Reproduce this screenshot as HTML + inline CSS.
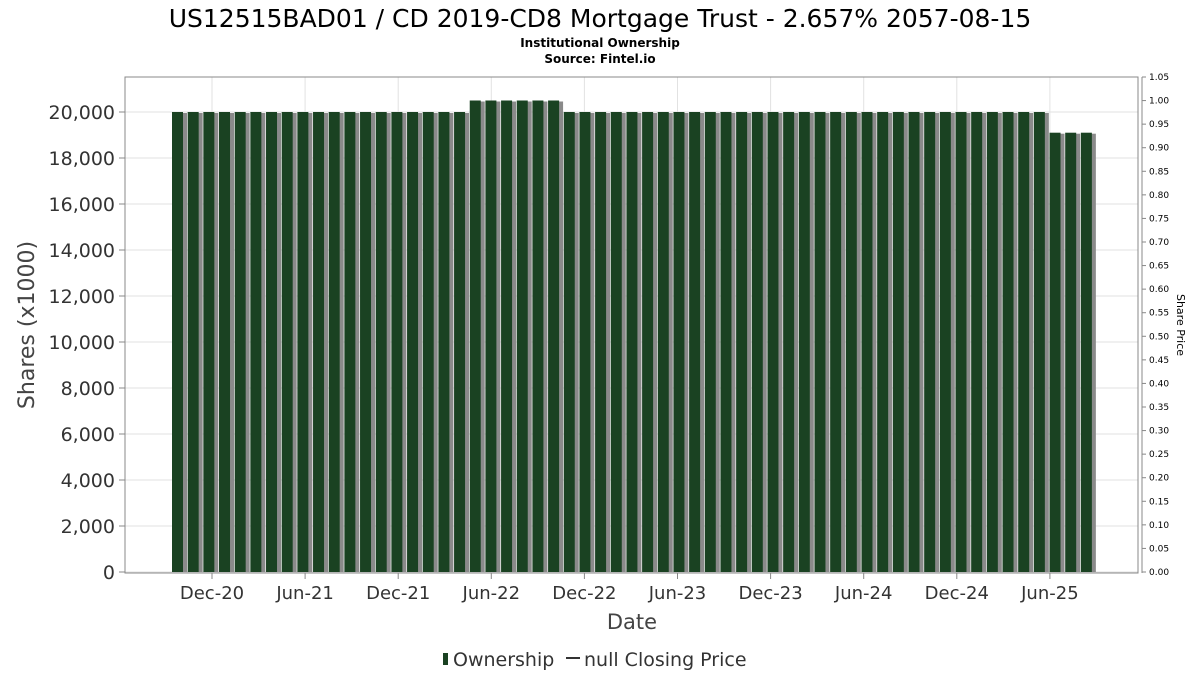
<!DOCTYPE html>
<html><head><meta charset="utf-8"><style>
body{margin:0;background:#fff;}
svg text{font-family:"DejaVu Sans","Liberation Sans",sans-serif;}
</style></head><body>
<svg id="chart" width="1200" height="675" xmlns="http://www.w3.org/2000/svg">
<text x="600" y="27" text-anchor="middle" font-size="25" fill="#000">US12515BAD01 / CD 2019-CD8 Mortgage Trust - 2.657% 2057-08-15</text>
<text x="600" y="47" text-anchor="middle" font-size="12" font-weight="bold" fill="#000">Institutional Ownership</text>
<text x="600" y="63" text-anchor="middle" font-size="12" font-weight="bold" fill="#000">Source: Fintel.io</text>
<g id="grid"></g>
<g id="bars"></g>
<rect x="125" y="77" width="1013" height="496" fill="none" stroke="#888" stroke-width="1"/>
<g id="axes"></g>
<text transform="translate(34,325) rotate(-90)" text-anchor="middle" font-size="22" fill="#444">Shares (x1000)</text>
<text transform="translate(1177,325) rotate(90)" text-anchor="middle" font-size="11" fill="#000">Share Price</text>
<text x="632" y="629" text-anchor="middle" font-size="21" fill="#444">Date</text>
<g>
<rect x="443" y="653" width="5" height="12" fill="#1a4222"/>
<text x="453" y="666" font-size="19" fill="#333">Ownership</text>
<line x1="566" y1="658" x2="580" y2="658" stroke="#333" stroke-width="2"/>
<text x="584" y="666" font-size="19" fill="#333">null Closing Price</text>
</g>
</svg>
<script>
const barValues = [20000,20000,20000,20000,20000,20000,20000,20000,20000,20000,20000,20000,20000,20000,20000,20000,20000,20000,20000,
20500,20500,20500,20500,20500,20500,
20000,20000,20000,20000,20000,20000,20000,20000,20000,20000,20000,20000,20000,20000,20000,20000,20000,20000,20000,20000,20000,20000,20000,20000,20000,20000,20000,20000,20000,20000,20000,
19100,19100,19100];
const yTicks = [0,2000,4000,6000,8000,10000,12000,14000,16000,18000,20000];
const y2Ticks = [0,0.05,0.1,0.15,0.2,0.25,0.3,0.35,0.4,0.45,0.5,0.55,0.6,0.65,0.7,0.75,0.8,0.85,0.9,0.95,1.0,1.05];
const xTickLabels = ["Dec-20","Jun-21","Dec-21","Jun-22","Dec-22","Jun-23","Dec-23","Jun-24","Dec-24","Jun-25"];
const xTickHalfYears = [0,1,2,3,4,5,6,7,8,9];

const NS="http://www.w3.org/2000/svg";
const y=v=>572-v*0.023;
const y2=v=>572-v*(495/1.05);
const xb=i=>172+i*15.67;
const xt=k=>212+k*93.1;
function mk(tag,attrs,parent,txt){const e=document.createElementNS(NS,tag);for(const k in attrs)e.setAttribute(k,attrs[k]);if(txt!==undefined)e.textContent=txt;document.getElementById(parent).appendChild(e);return e;}

yTicks.forEach(v=>{
  const g=mk('line',{x1:125,x2:1138,y1:y(v),y2:y(v),stroke:'#e2e2e2'},'grid');
  
  
  const t=mk('line',{x1:119,x2:125,y1:y(v),y2:y(v),stroke:'#888'},'axes');
  
  
  const l=mk('text',{x:115,y:y(v)+7,'text-anchor':'end','font-size':19,fill:'#333'},'axes',v.toLocaleString('en-US'));
  
  
});
xTickHalfYears.forEach((k,i)=>{
  const g=mk('line',{x1:xt(k),x2:xt(k),y1:77,y2:573,stroke:'#e2e2e2'},'grid');
  
  
  const t=mk('line',{x1:xt(k),x2:xt(k),y1:573,y2:579,stroke:'#888'},'axes');
  
  
  const l=mk('text',{x:xt(k),y:599,'text-anchor':'middle','font-size':18,fill:'#333'},'axes',xTickLabels[i]);
  
  
});
const ax=mk('line',{x1:1142,x2:1142,y1:77,y2:573,stroke:'#888'},'axes');


y2Ticks.forEach(v=>{
  const t=mk('line',{x1:1142,x2:1146,y1:y2(v),y2:y2(v),stroke:'#888'},'axes');
  
  
  const l=mk('text',{x:1149,y:y2(v)+3,'font-size':9,fill:'#000'},'axes',v.toFixed(2));
  
  
});
barValues.forEach((v,i)=>{
  const s=mk('rect',{x:xb(i)+3,y:y(v)+1,width:12,height:572-y(v)-1,fill:'#8a8a8a'},'bars');
  
  
  const b=mk('rect',{x:xb(i),y:y(v),width:11,height:572-y(v),fill:'#1a4222'},'bars');
  
  
});
</script>
</body></html>
